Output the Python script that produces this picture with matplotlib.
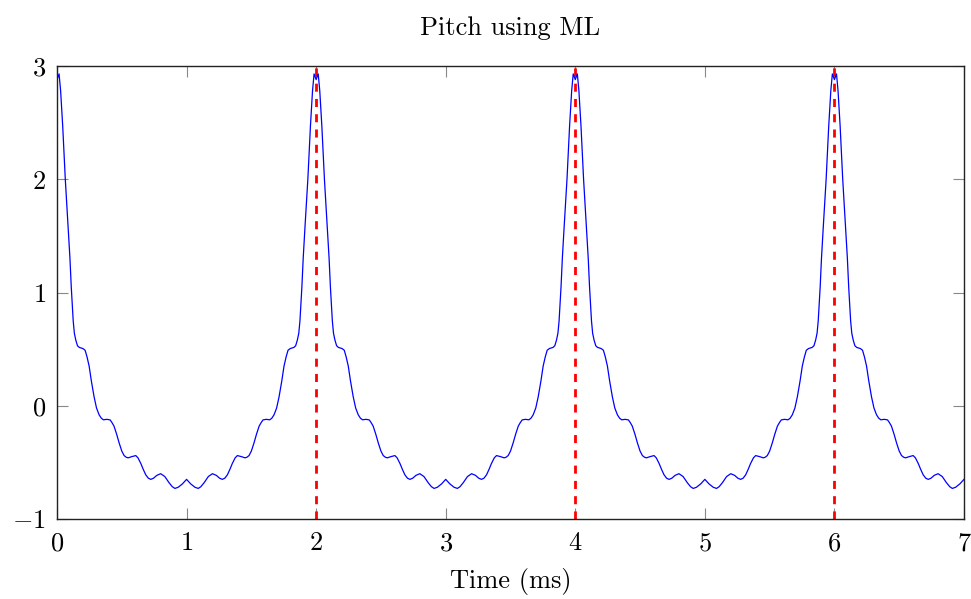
import numpy as np
import matplotlib
matplotlib.use("Agg")
import matplotlib.pyplot as plt

# ---- data ----
# One half-period (0..1 ms) of the ML pitch curve; the signal is symmetric
# about t = 1 ms and repeats every 2 ms.
half_t = [0.000, 0.016, 0.028, 0.044, 0.064, 0.086, 0.100, 0.110, 0.125, 0.134,
          0.145, 0.158, 0.172, 0.185, 0.200, 0.217, 0.232, 0.248, 0.265, 0.286,
          0.305, 0.325, 0.342, 0.358, 0.385, 0.410, 0.425, 0.440, 0.460, 0.480,
          0.500, 0.518, 0.535, 0.549, 0.575, 0.608, 0.625, 0.647, 0.665, 0.685,
          0.705, 0.724, 0.745, 0.770, 0.800, 0.832, 0.865, 0.890, 0.910, 0.935,
          0.968, 1.000]
half_y = [2.88, 2.93, 2.78, 2.47, 2.00, 1.58, 1.30, 1.05, 0.75, 0.64,
          0.58, 0.53, 0.515, 0.51, 0.505, 0.49, 0.43, 0.35, 0.22, 0.08,
          -0.02, -0.08, -0.11, -0.124, -0.12, -0.125, -0.15, -0.18, -0.25, -0.33,
          -0.40, -0.44, -0.455, -0.46, -0.45, -0.44, -0.46, -0.51, -0.56, -0.61,
          -0.64, -0.65, -0.64, -0.615, -0.60, -0.625, -0.68, -0.715, -0.73, -0.72,
          -0.69, -0.65]
period_ms = 2.0
t_end = 7.0
pitch_marks = [2, 4, 6]
x_ticks = [0, 1, 2, 3, 4, 5, 6, 7]
y_ticks = [-1, 0, 1, 2, 3]
title = "Pitch using ML"
xlabel = "Time (ms)"

# build the full series from the read half period (mirror + repeat)
ht = np.array(half_t)
hy = np.array(half_y)
per_t = np.concatenate([ht, period_ms - ht[::-1][1:]])
per_y = np.concatenate([hy, hy[::-1][1:]])
ts, ys = [], []
k = 0
while k * period_ms < t_end:
    seg_t = per_t + k * period_ms
    seg_y = per_y
    if k > 0:
        seg_t, seg_y = seg_t[1:], seg_y[1:]
    ts.append(seg_t)
    ys.append(seg_y)
    k += 1
t = np.concatenate(ts)
y = np.concatenate(ys)
mask = t <= t_end + 1e-9
t, y = t[mask], y[mask]

# ---- style ----
plt.rcParams['font.family'] = 'serif'
plt.rcParams['font.serif'] = ['cmr10', 'DejaVu Serif']
plt.rcParams['mathtext.fontset'] = 'cm'
plt.rcParams['axes.formatter.use_mathtext'] = True
plt.rcParams['axes.unicode_minus'] = True

fig = plt.figure(figsize=(9.71, 5.99), dpi=100)
ax = fig.add_axes([57/971, 1 - 519/599, (964 - 57)/971, (519 - 66)/599])

ax.plot(t, y, color='#0000ff', lw=0.9, zorder=3)
for xm in pitch_marks:
    ax.axvline(xm, color='#ff0000', lw=2.0, linestyle=(0, (2.9, 2.6)), zorder=2)

ax.set_xlim(0, 7)
ax.set_ylim(-1, 3)
ax.set_xticks(x_ticks)
ax.set_yticks(y_ticks)
ax.set_xticklabels([f"${v}$" for v in x_ticks])
ax.set_yticklabels([f"${v}$" if v >= 0 else f"$-{abs(v)}$" for v in y_ticks])
ax.tick_params(direction='in', length=8, width=0.8, color='#888888',
               top=True, right=True, labelsize=19)
ax.tick_params(axis='x', pad=9)
ax.tick_params(axis='y', pad=8)
for s in ax.spines.values():
    s.set_linewidth(1.0)
    s.set_color('#222222')

ax.set_title(title, fontsize=19, pad=22)
ax.set_xlabel(xlabel, fontsize=19, labelpad=9)

fig.savefig('out.png', dpi=100)
